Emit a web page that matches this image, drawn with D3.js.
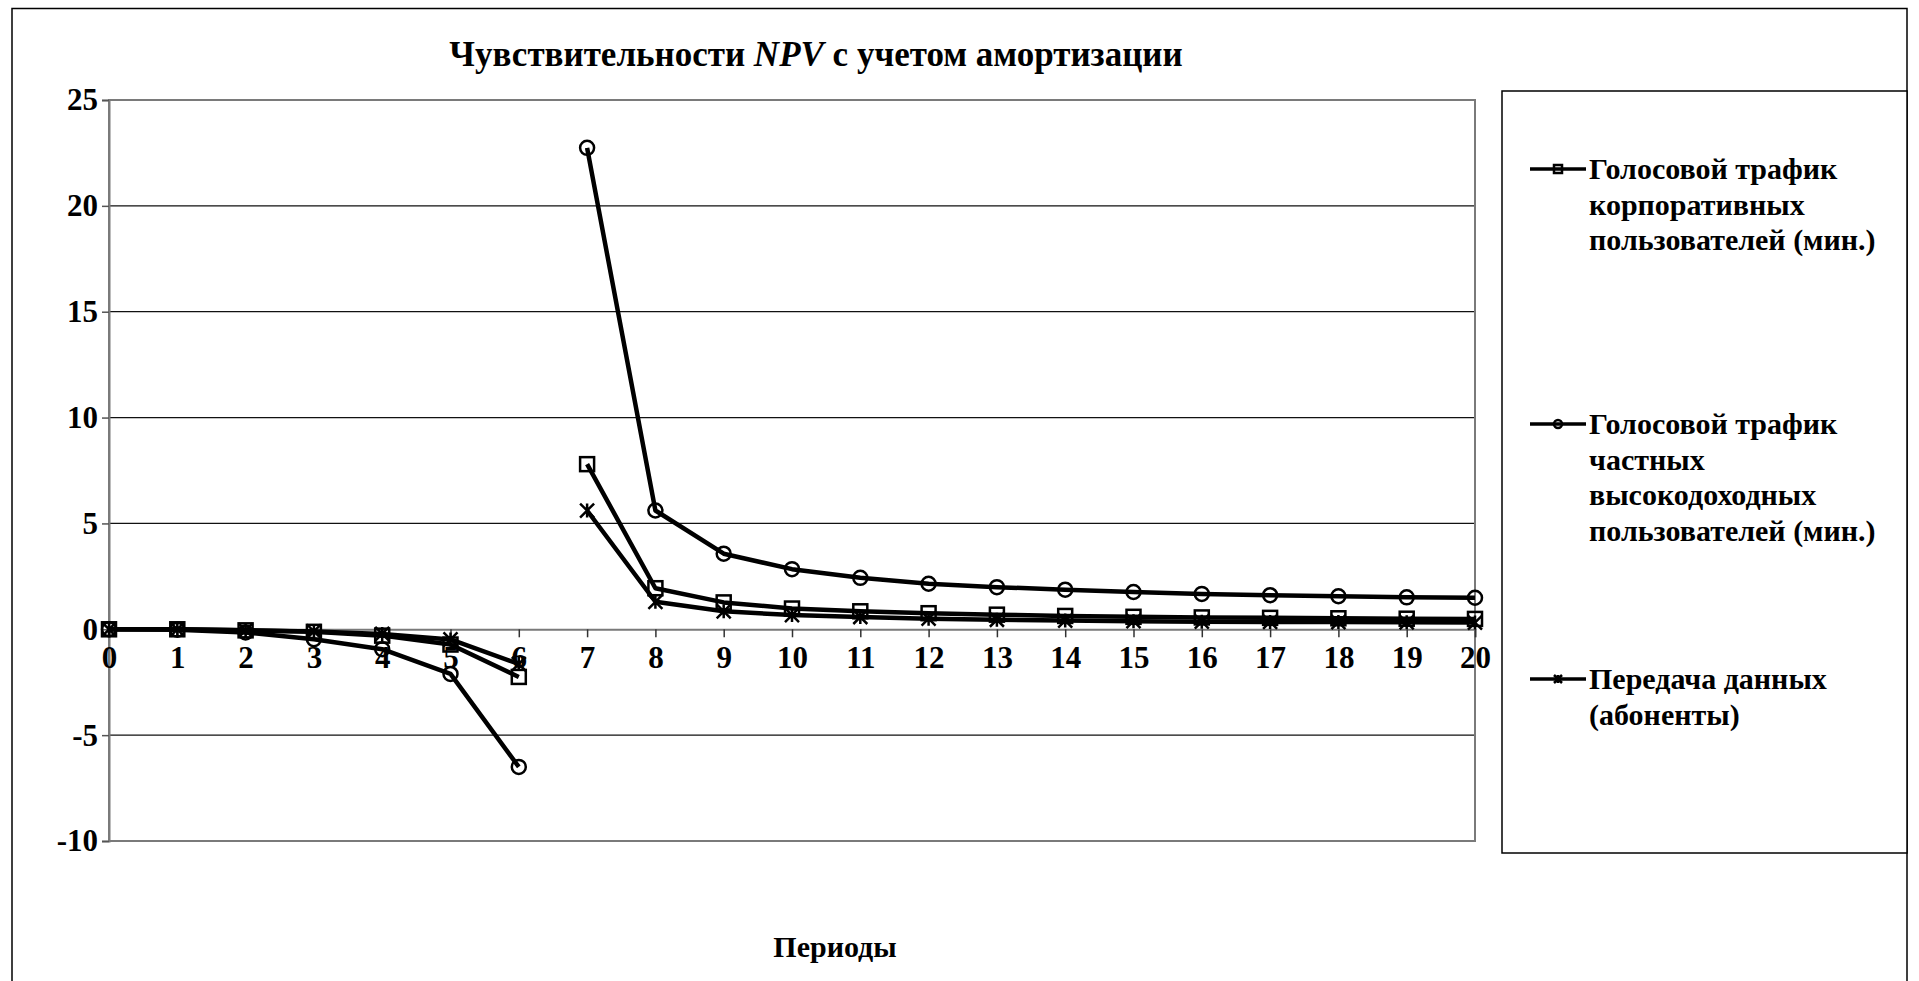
<!DOCTYPE html>
<html lang="ru">
<head>
<meta charset="utf-8">
<script src="https://cdn.jsdelivr.net/npm/d3@7"></script>
<style>
  html, body { margin: 0; padding: 0; background: #fff; }
  svg { display: block; font-family: "Liberation Serif", "Times New Roman", serif; font-weight: bold; }
</style>
</head>
<body>
<svg id="chart" width="1919" height="981"></svg>
<script>
// Periods on the horizontal axis
const periods = d3.range(0, 21);
const xTickLabels = periods.map(String);
const yTicks = [-10, -5, 0, 5, 10, 15, 20, 25];
const yTickLabels = ["-10", "-5", "0", "5", "10", "15", "20", "25"];

// NPV sensitivity by factor (0..20); the curves break between periods 6 and 7
const corporateVoice = [0, 0, -0.05, -0.12, -0.3, -0.72, -2.25, 7.8, 1.94, 1.27, 0.98, 0.85, 0.76, 0.69, 0.63, 0.59, 0.56, 0.54, 0.52, 0.5, 0.49];
const premiumVoice   = [0, -0.02, -0.15, -0.47, -0.94, -2.11, -6.5, 22.74, 5.61, 3.57, 2.84, 2.43, 2.15, 1.99, 1.87, 1.76, 1.67, 1.61, 1.56, 1.51, 1.49];
const dataSubs       = [0, 0, -0.05, -0.1, -0.22, -0.48, -1.64, 5.61, 1.3, 0.85, 0.67, 0.58, 0.5, 0.45, 0.41, 0.38, 0.36, 0.35, 0.34, 0.33, 0.32];
const segments = [[0, 6], [7, 20]];

const seriesNames = [
  ["Голосовой трафик", "корпоративных", "пользователей (мин.)"],
  ["Голосовой трафик", "частных", "высокодоходных", "пользователей (мин.)"],
  ["Передача данных", "(абоненты)"]
];
const seriesMarkers = ["square", "circle", "star"];
const seriesValues = [corporateVoice, premiumVoice, dataSubs];

const titleMain = "Чувствительности ";
const titleItalic = "NPV";
const titleRest = " с учетом амортизации";
const xAxisTitle = "Периоды";

const svg = d3.select("#chart");

// chart frame
svg.append("rect").attr("x", 12).attr("y", 8.5).attr("width", 1895).attr("height", 990)
  .attr("fill", "#fff").attr("stroke", "#000").attr("stroke-width", 1.5);

const plot = { left: 109, right: 1475, top: 100, bottom: 841 };
const x = d3.scaleLinear().domain([0, 20]).range([plot.left, plot.right]);
const y = d3.scaleLinear().domain([-10, 25]).range([plot.bottom, plot.top]);

// title
const title = svg.append("text").attr("x", 816).attr("y", 66)
  .attr("text-anchor", "middle").attr("font-size", 35);
title.append("tspan").text(titleMain);
title.append("tspan").attr("font-style", "italic").text(titleItalic);
title.append("tspan").text(titleRest);

// horizontal gridlines
svg.append("g").selectAll("line").data(yTicks.filter(v => v !== 0 && v !== 25 && v !== -10)).join("line")
  .attr("x1", plot.left).attr("x2", plot.right)
  .attr("y1", d => y(d)).attr("y2", d => y(d))
  .attr("stroke", "#111").attr("stroke-width", 1.3);

// plot area border
svg.append("rect").attr("x", plot.left).attr("y", plot.top)
  .attr("width", plot.right - plot.left).attr("height", plot.bottom - plot.top)
  .attr("fill", "none").attr("stroke", "#7a7a7a").attr("stroke-width", 2);

// y axis
const yAxis = d3.axisLeft(y).tickValues(yTicks).tickSize(7).tickPadding(5)
  .tickFormat((d, i) => yTickLabels[i]);
const gy = svg.append("g").attr("transform", `translate(${plot.left},0)`).call(yAxis);
gy.select(".domain").attr("stroke", "#7a7a7a").attr("stroke-width", 2);
gy.selectAll(".tick line").attr("stroke", "#555").attr("stroke-width", 1.5);
gy.selectAll(".tick text").attr("font-size", 31).attr("font-family", "Liberation Serif")
  .attr("font-weight", "bold").attr("fill", "#000").attr("dx", 1);

// x axis crossing at zero
const xAxis = d3.axisBottom(x).tickValues(periods).tickSize(8).tickPadding(9)
  .tickFormat((d, i) => xTickLabels[i]);
const gx = svg.append("g").attr("transform", `translate(0,${y(0)})`).call(xAxis);
gx.select(".domain").attr("stroke", "#7a7a7a").attr("stroke-width", 2);
gx.selectAll(".tick line").attr("stroke", "#333").attr("stroke-width", 1.5);
gx.selectAll(".tick text").attr("font-size", 31).attr("font-family", "Liberation Serif")
  .attr("font-weight", "bold").attr("fill", "#000");

// x axis title
svg.append("text").attr("x", 835).attr("y", 957).attr("text-anchor", "middle")
  .attr("font-size", 30).text(xAxisTitle);

// markers
function drawMarker(g, type, cx, cy, s) {
  if (type === "square") {
    g.append("rect").attr("x", cx - s / 2).attr("y", cy - s / 2).attr("width", s).attr("height", s)
      .attr("fill", "none").attr("stroke", "#000").attr("stroke-width", 2.5);
  } else if (type === "circle") {
    g.append("circle").attr("cx", cx).attr("cy", cy).attr("r", s / 2)
      .attr("fill", "none").attr("stroke", "#000").attr("stroke-width", 2.5);
  } else {
    const h = s / 2;
    g.append("path")
      .attr("d", `M${cx - h},${cy - h}L${cx + h},${cy + h}M${cx - h},${cy + h}L${cx + h},${cy - h}M${cx},${cy - h}L${cx},${cy + h}`)
      .attr("stroke", "#000").attr("stroke-width", 2.5).attr("fill", "none");
  }
}

const line = d3.line().x(d => x(d.p)).y(d => y(d.v));
const seriesG = svg.append("g");
seriesValues.forEach((vals) => {
  segments.forEach(([a, b]) => {
    const pts = periods.filter(p => p >= a && p <= b).map(p => ({ p, v: vals[p] }));
    seriesG.append("path").datum(pts).attr("d", line)
      .attr("fill", "none").attr("stroke", "#000").attr("stroke-width", 4.5)
      .attr("stroke-linejoin", "round");
  });
});
seriesValues.forEach((vals, si) => {
  const mg = seriesG.append("g");
  periods.forEach(p => drawMarker(mg, seriesMarkers[si], x(p), y(vals[p]), 14));
});

// legend
const lg = svg.append("g");
lg.append("rect").attr("x", 1502).attr("y", 91).attr("width", 405).attr("height", 762)
  .attr("fill", "#fff").attr("stroke", "#000").attr("stroke-width", 1.5);
const legendTop = [169, 424, 679];
const lineStep = 35.5;
seriesNames.forEach((lines, i) => {
  const ly = legendTop[i];
  lg.append("line").attr("x1", 1530).attr("x2", 1586).attr("y1", ly).attr("y2", ly)
    .attr("stroke", "#000").attr("stroke-width", 3.5);
  drawMarker(lg, seriesMarkers[i], 1558, ly, 8);
  const t = lg.append("text").attr("x", 1589).attr("y", ly + 10).attr("font-size", 30);
  lines.forEach((s, k) => t.append("tspan").attr("x", 1589).attr("dy", k === 0 ? 0 : lineStep).text(s));
});
</script>
</body>
</html>
